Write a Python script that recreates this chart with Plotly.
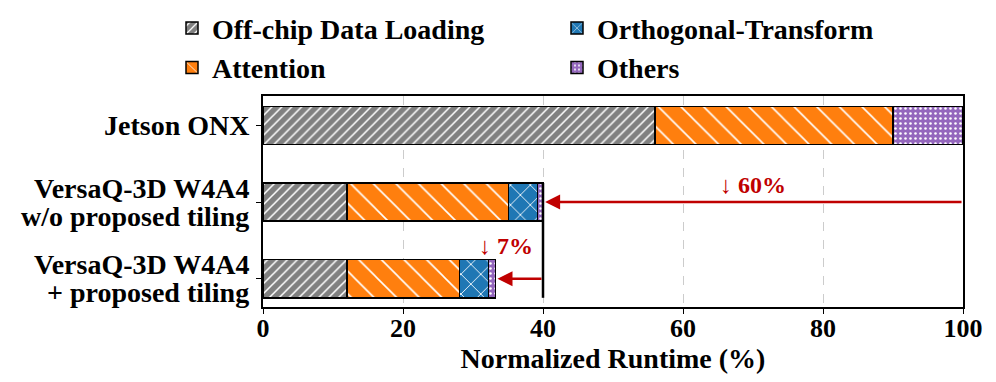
import plotly.graph_objects as go

categories = ["Jetson ONX",
              "VersaQ-3D W4A4<br>w/o proposed tiling",
              "VersaQ-3D W4A4<br>+ proposed tiling"]
series_names = ["Off-chip Data Loading", "Attention", "Orthogonal-Transform", "Others"]
offchip = [56.0, 12.0, 12.0]
attention = [34.0, 23.1, 16.1]
orthogonal = [0.0, 4.1, 4.1]
others = [10.0, 0.8, 1.0]
x_ticks = [0, 20, 40, 60, 80, 100]
reduction_labels = ["↓ 60%", "↓ 7%"]

series_values = [offchip, attention, orthogonal, others]
colors = ["#808080", "#ff7f0e", "#1f77b4", "#9467bd"]
patterns = [dict(shape="/", size=7, solidity=0.22),
            dict(shape="\\", size=16, solidity=0.1),
            dict(shape="x", size=14, solidity=0.12),
            dict(shape=".", size=5, solidity=0.2)]
legend_ids = ["legend", "legend", "legend2", "legend2"]

FONT = "Times New Roman, Liberation Serif, serif"
BOLD = dict(family=FONT, color="black", weight="bold")
ypos = list(range(len(categories)))

fig = go.Figure()
for name, vals, col, pat, lg in zip(series_names, series_values, colors, patterns, legend_ids):
    fig.add_trace(go.Bar(
        y=ypos, x=vals, name=name, orientation="h", width=0.5,
        legend=lg,
        marker=dict(color=col, line=dict(color="black", width=1.5),
                    pattern=dict(fillmode="replace", bgcolor=col, fgcolor="white", **pat)),
    ))

# category labels (tight two-line spacing like the reference)
for yi, label in zip(ypos, categories):
    lines = label.split("<br>")
    n = len(lines)
    for k, line in enumerate(lines):
        shift = (n - 1) * 14 - k * 28
        fig.add_annotation(x=0, xref="paper", y=yi, yref="y", xanchor="right",
                           yanchor="middle", xshift=-12, yshift=shift,
                           showarrow=False, text=line, font=dict(size=28, **BOLD))

totals = [sum(v[i] for v in series_values) for i in range(len(categories))]
ref_total = totals[0]
wo_total = totals[1]
w_total = totals[2]

red = "#c00000"
fig.add_shape(type="line", x0=wo_total, x1=wo_total, y0=1 - 0.25, y1=2 + 0.25,
              xref="x", yref="y", line=dict(color="black", width=2.5))
fig.add_annotation(x=wo_total + 0.3, y=1, ax=ref_total, ay=1, xref="x", yref="y",
                   axref="x", ayref="y", showarrow=True, arrowhead=2, arrowsize=1.2,
                   arrowwidth=2.5, arrowcolor=red, text="")
fig.add_annotation(x=w_total + 0.3, y=2, ax=wo_total, ay=2, xref="x", yref="y",
                   axref="x", ayref="y", showarrow=True, arrowhead=2, arrowsize=1.2,
                   arrowwidth=2.5, arrowcolor=red, text="")
fig.add_annotation(x=(ref_total + wo_total) / 2, y=1, yshift=17, xref="x", yref="y",
                   showarrow=False, text=reduction_labels[0],
                   font=dict(family=FONT, size=24, color=red, weight="bold"))
fig.add_annotation(x=w_total + 1.5, y=2, yshift=33, xref="x", yref="y",
                   showarrow=False, text=reduction_labels[1],
                   font=dict(family=FONT, size=24, color=red, weight="bold"))

fig.update_layout(
    width=996, height=382,
    margin=dict(l=263, r=33, t=96, b=75, autoexpand=False),
    barmode="stack",
    plot_bgcolor="white", paper_bgcolor="white",
    font=dict(size=28, **BOLD),
    legend=dict(x=-0.13, xanchor="left", y=1.017, yanchor="bottom",
                font=dict(size=28, **BOLD),
                traceorder="normal", tracegroupgap=0, bgcolor="rgba(0,0,0,0)"),
    legend2=dict(x=0.42, xanchor="left", y=1.017, yanchor="bottom",
                 font=dict(size=28, **BOLD),
                 traceorder="normal", tracegroupgap=0, bgcolor="rgba(0,0,0,0)"),
)
fig.update_xaxes(range=[0, 100], tickvals=x_ticks, showgrid=True, gridcolor="#cccccc",
                 griddash="dash", gridwidth=1, zeroline=False,
                 showline=True, linecolor="black", linewidth=2, mirror=True,
                 ticks="outside", ticklen=5, tickcolor="black", ticklabelstandoff=-8,
                 tickfont=dict(size=26, **BOLD),
                 title=dict(text="Normalized Runtime (%)", standoff=2,
                            font=dict(size=28, **BOLD)))
fig.update_yaxes(range=[2.37, -0.385], tickvals=ypos, showticklabels=False,
                 showgrid=False, zeroline=False,
                 showline=True, linecolor="black", linewidth=2, mirror=True,
                 ticks="outside", ticklen=5, tickcolor="black")

fig.write_html("out.html", config={"displayModeBar": False},
               post_script="document.body.style.margin='0';document.body.style.overflow='hidden';")
